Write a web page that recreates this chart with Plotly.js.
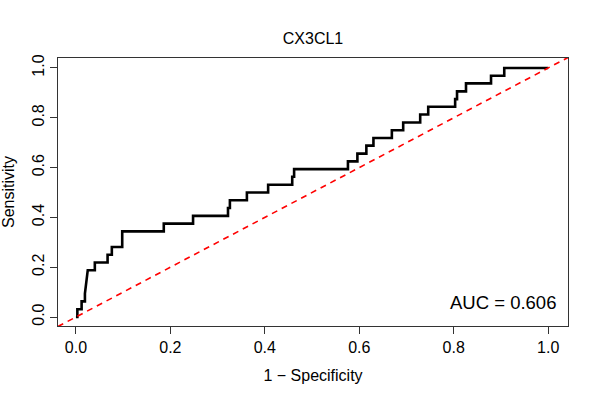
<!DOCTYPE html>
<html>
<head>
<meta charset="utf-8">
<script src="https://cdn.plot.ly/plotly-3.0.1.min.js"></script>
<style>html,body{margin:0;padding:0;background:#fff;}#chart{width:600px;height:400px;}</style>
</head>
<body>
<div id="chart"></div>
<script>
// ROC curve corner points (1 - specificity, sensitivity)
var fpr = [0, 0.003, 0.003, 0.012, 0.012, 0.019, 0.019, 0.025, 0.040, 0.040, 0.067, 0.067, 0.076, 0.076, 0.098, 0.098, 0.186, 0.186, 0.248, 0.248, 0.322, 0.322, 0.326, 0.326, 0.362, 0.362, 0.407, 0.407, 0.458, 0.458, 0.462, 0.462, 0.576, 0.576, 0.596, 0.596, 0.615, 0.615, 0.630, 0.630, 0.669, 0.669, 0.693, 0.693, 0.729, 0.729, 0.746, 0.746, 0.803, 0.803, 0.807, 0.807, 0.826, 0.826, 0.879, 0.879, 0.907, 0.907, 1.0];
var tpr = [0, 0, 0.031, 0.031, 0.063, 0.063, 0.094, 0.188, 0.188, 0.219, 0.219, 0.250, 0.250, 0.281, 0.281, 0.344, 0.344, 0.375, 0.375, 0.406, 0.406, 0.438, 0.438, 0.469, 0.469, 0.500, 0.500, 0.531, 0.531, 0.563, 0.563, 0.594, 0.594, 0.625, 0.625, 0.656, 0.656, 0.688, 0.688, 0.719, 0.719, 0.750, 0.750, 0.781, 0.781, 0.813, 0.813, 0.844, 0.844, 0.875, 0.875, 0.906, 0.906, 0.938, 0.938, 0.969, 0.969, 1.0, 1.0];
// reference diagonal
var diagX = [-0.1, 1.1];
var diagY = [-0.1, 1.1];
var tickVals = [0, 0.2, 0.4, 0.6, 0.8, 1.0];
var tickText = ["0.0", "0.2", "0.4", "0.6", "0.8", "1.0"];
var chartTitle = "CX3CL1";
var xTitle = "1 \u2212 Specificity";
var yTitle = "Sensitivity";
var aucLabel = "AUC = 0.606";

var font = "Liberation Sans, Arial, Helvetica, sans-serif";

var traces = [
  {x: fpr, y: tpr, type: "scatter", mode: "lines",
   line: {color: "#000000", width: 2.6}, hoverinfo: "skip", showlegend: false},
  {x: diagX, y: diagY, type: "scatter", mode: "lines",
   line: {color: "#ff0000", width: 1.6, dash: "6px,5px"}, hoverinfo: "skip", showlegend: false}
];

var axisCommon = {
  showgrid: false, zeroline: false,
  showline: true, mirror: true, linecolor: "#333333", linewidth: 1,
  ticks: "outside", ticklen: 7, tickcolor: "#333333", tickwidth: 1,
  tickvals: tickVals, ticktext: tickText,
  tickfont: {family: font, size: 16, color: "#000"}
};

var layout = {
  width: 600, height: 400,
  paper_bgcolor: "#fff", plot_bgcolor: "#fff",
  margin: {l: 58, r: 32, t: 58, b: 74},
  title: {text: chartTitle, font: {family: font, size: 16, color: "#000"},
          x: 0.5, xref: "paper", y: 1 - 38/400, yref: "container", yanchor: "middle"},
  xaxis: Object.assign({}, axisCommon, {
    range: [-0.038, 1.042],
    title: {text: xTitle, font: {family: font, size: 16, color: "#000"}, standoff: 14}
  }),
  yaxis: Object.assign({}, axisCommon, {
    range: [-0.036, 1.04], tickangle: -90,
    title: {text: yTitle, font: {family: font, size: 16, color: "#000"}, standoff: 10}
  }),
  annotations: [{
    x: 1.021, y: 0.06, xref: "x", yref: "y", text: aucLabel, showarrow: false,
    xanchor: "right", yanchor: "middle", font: {family: font, size: 18.5, color: "#000"}
  }]
};

Plotly.newPlot("chart", traces, layout, {displayModeBar: false, staticPlot: true});
</script>
</body>
</html>
